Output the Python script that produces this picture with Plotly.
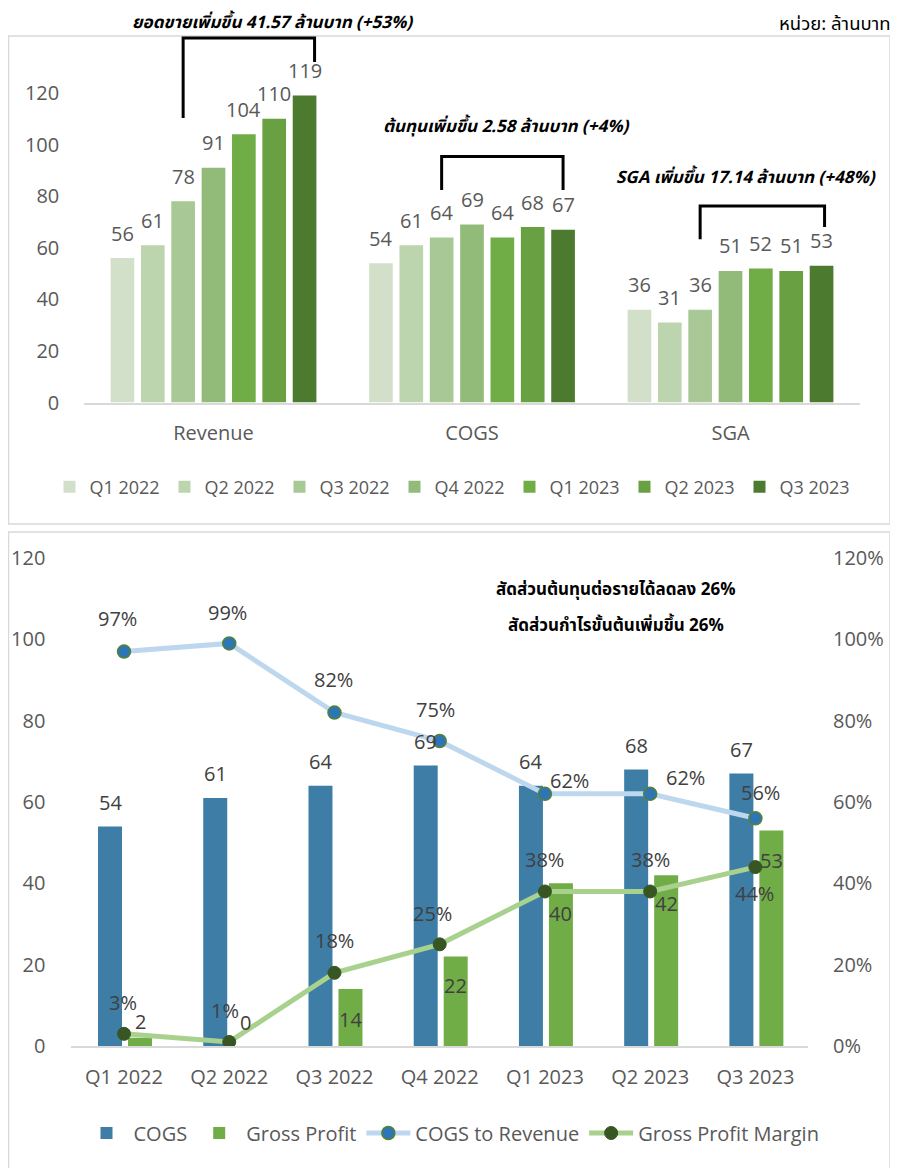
import plotly.graph_objects as go

# ---------------- data ----------------
quarters = ["Q1 2022", "Q2 2022", "Q3 2022", "Q4 2022", "Q1 2023", "Q2 2023", "Q3 2023"]
metrics = ["Revenue", "COGS", "SGA"]
revenue = [56, 61, 78, 91, 104, 110, 119]
cogs = [54, 61, 64, 69, 64, 68, 67]
sga = [36, 31, 36, 51, 52, 51, 53]
gross_profit = [2, 0, 14, 22, 40, 42, 53]
cogs_to_revenue = [0.97, 0.99, 0.82, 0.75, 0.62, 0.62, 0.56]
gross_margin = [0.03, 0.01, 0.18, 0.25, 0.38, 0.38, 0.44]
top_ticks = [0, 20, 40, 60, 80, 100, 120]
bottom_ticks = [0, 20, 40, 60, 80, 100, 120]
pct_ticks = [0, 0.2, 0.4, 0.6, 0.8, 1.0, 1.2]

# ---------------- styles ----------------
OFF = 8                      # page body margin
W, H = 898 - OFF, 1168 - OFF
quarter_colors = ["#D2E0C9", "#BDD5AF", "#A8C996", "#92BB7A", "#70AD47", "#68A042", "#4C7A2E"]
C_COGS = "#3E7DA5"
C_GP = "#70AD47"
FONT = "Open Sans, Noto Sans, sans-serif"
THAI = "Noto Sans Thai, Tahoma, Leelawadee UI, sans-serif"
GRAY = "#595959"
DARK = "#404040"

BARGAP, BARGROUPGAP = 0.178, 0.22
slot = (1 - BARGAP) / len(quarters)

def px_x(px):
    return (px - OFF) / W

def px_y(py):
    return 1 - (py - OFF) / H

fig = go.Figure()

# top chart bars
for i, q in enumerate(quarters):
    fig.add_trace(go.Bar(
        x=metrics, y=[revenue[i], cogs[i], sga[i]], name=q,
        marker=dict(color=quarter_colors[i], line=dict(width=0)),
        xaxis="x", yaxis="y", legend="legend", hoverinfo="x+y+name",
    ))

# bottom chart
bw = 0.228
fig.add_trace(go.Bar(x=quarters, y=cogs, name="COGS", marker=dict(color=C_COGS, line=dict(width=0)),
                     width=bw, offset=-0.247, xaxis="x2", yaxis="y2", legend="legend2"))
fig.add_trace(go.Bar(x=quarters, y=gross_profit, name="Gross Profit", marker=dict(color=C_GP, line=dict(width=0)),
                     width=bw, offset=0.038, xaxis="x2", yaxis="y2", legend="legend2"))
fig.add_trace(go.Scatter(x=quarters, y=cogs_to_revenue, name="COGS to Revenue", mode="lines+markers",
                         line=dict(color="#BDD7EE", width=5),
                         marker=dict(size=13, color="#2E75B6", line=dict(color="#548235", width=1.5)),
                         xaxis="x2", yaxis="y3", legend="legend2"))
fig.add_trace(go.Scatter(x=quarters, y=gross_margin, name="Gross Profit Margin", mode="lines+markers",
                         line=dict(color="#A9D18E", width=5),
                         marker=dict(size=13, color="#375623", line=dict(color="#375623", width=1)),
                         xaxis="x2", yaxis="y3", legend="legend2"))

ann = []
# top bar labels
top_values = [revenue, cogs, sga]
for ci, vals in enumerate(top_values):
    for i, v in enumerate(vals):
        ann.append(dict(x=ci + (i - 3) * slot, y=v, xref="x", yref="y", text=str(v), showarrow=False,
                        yshift=25, font=dict(family=FONT, size=20, color=GRAY)))

# bottom bar labels
cogs_center = -0.247 + bw / 2
gp_center = 0.038 + bw / 2
for i, v in enumerate(cogs):
    ann.append(dict(x=i + cogs_center, y=v, xref="x2", yref="y2", text=str(v), showarrow=False,
                    yshift=24, font=dict(family=FONT, size=20, color=DARK)))
gp_label_dy = [16, 24, -30, -29, -30, -28, -30]
for i, v in enumerate(gross_profit):
    ann.append(dict(x=i + gp_center, y=v, xref="x2", yref="y2", text=str(v), showarrow=False,
                    yshift=gp_label_dy[i], font=dict(family=FONT, size=20, color=DARK)))

ctr_shift = [(-7, 33), (-2, 31), (-1, 33), (-4, 32), (25, 13), (35, 16), (5, 26)]
for i, v in enumerate(cogs_to_revenue):
    ann.append(dict(x=i, y=v, xref="x2", yref="y3", text=f"{round(v*100)}%", showarrow=False,
                    xshift=ctr_shift[i][0], yshift=ctr_shift[i][1],
                    font=dict(family=FONT, size=20, color=DARK)))
gpm_shift = [(-1, 31), (-4, 31), (0, 32), (-7, 31), (0, 32), (0, 32), (-1, -26)]
for i, v in enumerate(gross_margin):
    ann.append(dict(x=i, y=v, xref="x2", yref="y3", text=f"{round(v*100)}%", showarrow=False,
                    xshift=gpm_shift[i][0], yshift=gpm_shift[i][1],
                    font=dict(family=FONT, size=20, color=DARK)))

# Thai texts
def txt(x, y, s, bold=True, italic=True, size=17, xanchor="center", yanchor="middle"):
    t = s
    if bold:
        t = f"<b>{t}</b>"
    if italic:
        t = f"<i>{t}</i>"
    ann.append(dict(x=px_x(x), y=px_y(y), xref="paper", yref="paper", text=t, showarrow=False,
                    xanchor=xanchor, yanchor=yanchor, font=dict(family=THAI, size=size, color="#000000")))

txt(272, 8, "ยอดขายเพิ่มขึ้น 41.57 ล้านบาท (+53%)", yanchor="top")
txt(506, 127, "ต้นทุนเพิ่มขึ้น 2.58 ล้านบาท (+4%)")
txt(746, 178, "SGA เพิ่มขึ้น 17.14 ล้านบาท (+48%)")
txt(892, 8, "หน่วย: ล้านบาท", bold=False, italic=False, size=18.5, xanchor="right", yanchor="top")
txt(616, 590, "สัดส่วนต้นทุนต่อรายได้ลดลง 26%", italic=False)
txt(616, 626, "สัดส่วนกำไรขั้นต้นเพิ่มขึ้น 26%", italic=False)

shapes = []
# frames
for (x0, y0, x1, y1) in [(8.5, 36, 890, 524), (8.5, 532, 890, 1190)]:
    shapes.append(dict(type="rect", xref="paper", yref="paper", x0=px_x(x0), x1=px_x(x1),
                       y0=px_y(y1), y1=px_y(y0), line=dict(color="#D9D9D9", width=1.5),
                       fillcolor="rgba(0,0,0,0)", layer="below"))

# brackets (category index + bar offset, value units)
px_per_cat = 258.5
brackets = [
    # cat, left bar, right bar, right extra px, top, left bottom, right bottom
    (0, 2, 6, 10, 141.3, 110.3, 132.0),
    (1, 2, 6, 0, 95.4, 82.4, 82.4),
    (2, 2, 6, 3, 76.2, 63.3, 68.0),
]
for c, lb, rb, extra, top, lbot, rbot in brackets:
    xl = c + (lb - 3) * slot
    xr = c + (rb - 3) * slot + extra / px_per_cat
    path = f"M {xl} {lbot} L {xl} {top} L {xr} {top} L {xr} {rbot}"
    shapes.append(dict(type="path", xref="x", yref="y", path=path, line=dict(color="black", width=3)))

tickfont = dict(family=FONT, size=20, color=GRAY)

fig.update_layout(
    width=W, height=H, margin=dict(l=0, r=0, t=0, b=0, pad=0, autoexpand=False),
    paper_bgcolor="white", plot_bgcolor="rgba(0,0,0,0)",
    barmode="group", bargap=BARGAP, bargroupgap=BARGROUPGAP,
    xaxis=dict(domain=[px_x(84.25), px_x(859.75)], anchor="y", type="category",
               range=[-0.5, 2.5], showline=True, linecolor="#D9D9D9", linewidth=1.5,
               ticks="outside", ticklen=12, tickcolor="rgba(0,0,0,0)", tickfont=tickfont,
               showgrid=False, zeroline=False, automargin=False),
    yaxis=dict(domain=[px_y(402.5), px_y(28.5)], anchor="x", range=[0, 145],
               tickvals=top_ticks, showgrid=False, zeroline=False, showline=False,
               ticks="outside", ticklen=20, tickcolor="rgba(0,0,0,0)", tickfont=tickfont,
               automargin=False),
    xaxis2=dict(domain=[px_x(71.4), px_x(808)], anchor="y2", type="category",
                range=[-0.5, 6.5], showline=True, linecolor="#D9D9D9", linewidth=1.5,
                ticks="outside", ticklen=12, tickcolor="rgba(0,0,0,0)", tickfont=tickfont,
                showgrid=False, zeroline=False, automargin=False),
    yaxis2=dict(domain=[px_y(1046), px_y(558)], anchor="x2", range=[0, 120],
                tickvals=bottom_ticks, showgrid=False, zeroline=False, showline=False,
                ticks="outside", ticklen=21, tickcolor="rgba(0,0,0,0)", tickfont=tickfont,
                automargin=False),
    yaxis3=dict(overlaying="y2", side="right", anchor="x2", range=[0, 1.2],
                tickvals=pct_ticks, tickformat=".0%", showgrid=False, zeroline=False, showline=False,
                ticks="outside", ticklen=20, tickcolor="rgba(0,0,0,0)", tickfont=tickfont,
                automargin=False),
    legend=dict(orientation="h", x=px_x(452), xanchor="center", y=px_y(487), yanchor="middle",
                font=dict(family=FONT, size=18, color=GRAY), itemwidth=30, entrywidth=70,
                bgcolor="rgba(0,0,0,0)"),
    legend2=dict(orientation="h", x=px_x(452), xanchor="center", y=px_y(1133), yanchor="middle",
                 font=dict(family=FONT, size=20, color=GRAY), itemwidth=44,
                 bgcolor="rgba(0,0,0,0)"),
    annotations=ann, shapes=shapes, showlegend=True,
)

fig.write_html("out.html")
